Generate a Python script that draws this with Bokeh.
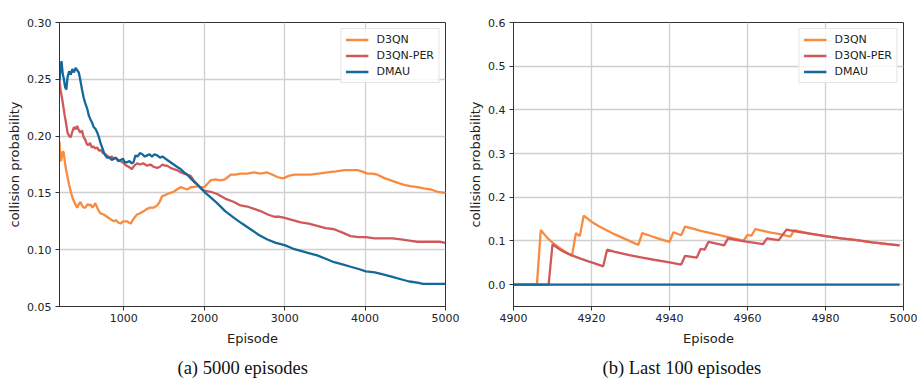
from bokeh.plotting import figure
from bokeh.layouts import row
from bokeh.models import Range1d, FixedTicker, Legend, LegendItem, Title, NumeralTickFormatter
from bokeh.embed import file_html
from bokeh.resources import INLINE

# ---------------- data: (a) 5000 episodes ----------------
d3qn_ep = [200, 210, 220, 235, 250, 265, 280, 300, 320, 340, 365, 390, 420, 440, 460, 480, 500, 520, 550, 570,
           585, 610, 630, 645, 670, 690, 710, 750, 790, 830, 875, 900, 930, 960, 990, 1040, 1060, 1085, 1110, 1140,
           1165, 1200, 1250, 1290, 1330, 1370, 1415, 1445, 1475, 1510, 1540, 1580, 1620, 1660, 1705, 1750, 1790,
           1830, 1870, 1920, 1960, 2000, 2040, 2080, 2140, 2200, 2260, 2330, 2390, 2450, 2530, 2620, 2700, 2785,
           2850, 2910, 2960, 2990, 3050, 3120, 3220, 3320, 3420, 3530, 3640, 3740, 3820, 3905, 3960, 4030, 4090,
           4155, 4240, 4320, 4400, 4485, 4560, 4650, 4730, 4820, 4900, 5000]
d3qn_val = [0.195, 0.180, 0.178, 0.186, 0.186, 0.178, 0.171, 0.164, 0.157, 0.151, 0.145, 0.141, 0.137, 0.140, 0.142,
            0.139, 0.137, 0.137, 0.140, 0.139, 0.140, 0.137, 0.139, 0.141, 0.137, 0.134, 0.132, 0.131, 0.129, 0.127,
            0.125, 0.126, 0.124, 0.123, 0.125, 0.125, 0.124, 0.123, 0.126, 0.129, 0.131, 0.132, 0.134, 0.136, 0.137,
            0.137, 0.139, 0.142, 0.147, 0.148, 0.149, 0.150, 0.151, 0.153, 0.155, 0.154, 0.153, 0.155, 0.155, 0.156,
            0.155, 0.155, 0.158, 0.161, 0.162, 0.161, 0.162, 0.166, 0.166, 0.167, 0.167, 0.168, 0.167, 0.168, 0.166,
            0.164, 0.163, 0.163, 0.165, 0.166, 0.166, 0.166, 0.167, 0.168, 0.169, 0.170, 0.170, 0.170, 0.169, 0.167,
            0.167, 0.166, 0.163, 0.161, 0.159, 0.157, 0.156, 0.155, 0.154, 0.153, 0.151, 0.150]

per_ep = [200, 215, 235, 250, 265, 280, 300, 320, 340, 360, 380, 400, 420, 440, 460, 480, 500, 520, 540, 560, 580,
          600, 620, 645, 670, 690, 710, 740, 770, 790, 820, 850, 875, 895, 930, 960, 1000, 1030, 1060, 1100, 1130,
          1165, 1200, 1240, 1290, 1330, 1370, 1415, 1450, 1480, 1510, 1540, 1580, 1620, 1665, 1710, 1750, 1790,
          1830, 1870, 1920, 1960, 2000, 2080, 2160, 2260, 2370, 2450, 2535, 2620, 2700, 2790, 2870, 2940, 3000,
          3100, 3200, 3300, 3405, 3510, 3615, 3720, 3820, 3920, 4010, 4120, 4235, 4340, 4445, 4550, 4650, 4750,
          4860, 4930, 5000]
per_val = [0.248, 0.240, 0.232, 0.225, 0.218, 0.212, 0.203, 0.200, 0.199, 0.204, 0.208, 0.206, 0.209, 0.205, 0.203,
           0.205, 0.199, 0.197, 0.193, 0.192, 0.194, 0.190, 0.191, 0.189, 0.190, 0.187, 0.188, 0.185, 0.184, 0.183,
           0.181, 0.182, 0.180, 0.181, 0.179, 0.178, 0.176, 0.174, 0.173, 0.171, 0.174, 0.176, 0.175, 0.176, 0.174,
           0.175, 0.173, 0.172, 0.173, 0.175, 0.174, 0.174, 0.172, 0.171, 0.170, 0.168, 0.167, 0.166, 0.165, 0.161,
           0.157, 0.154, 0.152, 0.151, 0.149, 0.145, 0.142, 0.139, 0.138, 0.136, 0.134, 0.131, 0.129, 0.129, 0.128,
           0.126, 0.124, 0.123, 0.121, 0.119, 0.118, 0.115, 0.112, 0.111, 0.111, 0.110, 0.110, 0.110, 0.109, 0.108,
           0.107, 0.107, 0.107, 0.107, 0.106]

dmau_ep = [200, 215, 225, 240, 255, 270, 285, 300, 320, 340, 360, 380, 400, 420, 440, 460, 480, 500, 520, 545, 565,
           590, 610, 625, 650, 670, 690, 710, 730, 750, 770, 790, 820, 850, 875, 900, 930, 960, 990, 1010, 1040,
           1070, 1100, 1120, 1145, 1170, 1200, 1230, 1260, 1290, 1320, 1350, 1380, 1415, 1450, 1480, 1500, 1540,
           1580, 1620, 1660, 1705, 1750, 1790, 1830, 1870, 1920, 1960, 2000, 2080, 2160, 2260, 2370, 2470, 2575,
           2680, 2785, 2890, 3000, 3100, 3200, 3300, 3405, 3510, 3615, 3720, 3820, 3920, 4010, 4120, 4235, 4340,
           4445, 4550, 4650, 4720, 4775, 4850, 4920, 5000]
dmau_val = [0.248, 0.262, 0.266, 0.255, 0.250, 0.243, 0.241, 0.252, 0.257, 0.254, 0.259, 0.256, 0.260, 0.258, 0.256,
            0.249, 0.241, 0.234, 0.229, 0.224, 0.218, 0.214, 0.211, 0.208, 0.206, 0.203, 0.199, 0.194, 0.190, 0.186,
            0.183, 0.181, 0.181, 0.179, 0.180, 0.181, 0.178, 0.179, 0.180, 0.177, 0.177, 0.178, 0.176, 0.177, 0.183,
            0.182, 0.185, 0.184, 0.182, 0.183, 0.184, 0.182, 0.184, 0.183, 0.181, 0.182, 0.181, 0.179, 0.177, 0.175,
            0.173, 0.171, 0.168, 0.166, 0.163, 0.160, 0.157, 0.154, 0.151, 0.146, 0.141, 0.134, 0.128, 0.123, 0.118,
            0.113, 0.109, 0.106, 0.104, 0.101, 0.099, 0.097, 0.095, 0.092, 0.089, 0.087, 0.085, 0.083, 0.081, 0.080,
            0.078, 0.076, 0.074, 0.072, 0.071, 0.070, 0.070, 0.070, 0.070, 0.070]

# ---------------- data: (b) last 100 episodes ----------------
d3qn_last_ep = [4900, 4906, 4907, 4908, 4909, 4910, 4911, 4912, 4913, 4914, 4915, 4916, 4917, 4918, 4919, 4920, 4922,
                4924, 4926, 4928, 4930, 4932, 4933, 4935, 4937, 4940, 4941, 4943, 4944, 4946, 4948, 4950, 4952, 4955,
                4957, 4959, 4960, 4961, 4962, 4964, 4966, 4968, 4971, 4972, 4976, 4980, 4984, 4988, 4992, 4996, 4999]
d3qn_last_val = [0.0, 0.0, 0.125, 0.114, 0.104, 0.096, 0.089, 0.083, 0.077, 0.071, 0.066, 0.118, 0.111, 0.158, 0.151,
                 0.144, 0.133, 0.124, 0.115, 0.107, 0.099, 0.091, 0.118, 0.112, 0.106, 0.098, 0.120, 0.113, 0.133,
                 0.128, 0.123, 0.119, 0.115, 0.109, 0.105, 0.101, 0.114, 0.112, 0.127, 0.123, 0.119, 0.116, 0.110,
                 0.125, 0.117, 0.111, 0.106, 0.102, 0.097, 0.093, 0.090]

per_last_ep = [4900, 4909, 4910, 4911, 4912, 4913, 4914, 4915, 4917, 4919, 4921, 4923, 4924, 4926, 4928, 4930, 4933,
               4936, 4940, 4943, 4944, 4947, 4948, 4949, 4950, 4952, 4954, 4955, 4958, 4961, 4964, 4965, 4968, 4970,
               4973, 4976, 4980, 4984, 4988, 4992, 4996, 4999]
per_last_val = [0.0, 0.0, 0.092, 0.086, 0.080, 0.075, 0.071, 0.067, 0.060, 0.054, 0.048, 0.042, 0.080, 0.075, 0.071,
                0.067, 0.062, 0.057, 0.051, 0.046, 0.066, 0.062, 0.082, 0.080, 0.098, 0.094, 0.090, 0.106, 0.101,
                0.097, 0.093, 0.106, 0.102, 0.126, 0.121, 0.117, 0.111, 0.106, 0.102, 0.097, 0.093, 0.090]

dmau_last_ep = [4900, 4999]
dmau_last_val = [0.0, 0.0]

series_names = ["D3QN", "D3QN-PER", "DMAU"]
colors = ["#F98B41", "#D1585A", "#14699A"]

x_ticks_a = [1000, 2000, 3000, 4000, 5000]
y_ticks_a = [0.05, 0.10, 0.15, 0.20, 0.25, 0.30]
x_ticks_b = [4900, 4920, 4940, 4960, 4980, 5000]
y_ticks_b = [0.0, 0.1, 0.2, 0.3, 0.4, 0.5, 0.6]

FONT = "DejaVu Sans"


def style(p, xt, yt, yfmt):
    p.xaxis.ticker = FixedTicker(ticks=xt)
    p.yaxis.ticker = FixedTicker(ticks=yt)
    p.yaxis.formatter = NumeralTickFormatter(format=yfmt)
    for ax in (p.xaxis[0], p.yaxis[0]):
        ax.major_label_text_font = FONT
        ax.major_label_text_font_size = "11px"
        ax.major_label_text_color = "#222222"
        ax.axis_label_text_font = FONT
        ax.axis_label_text_font_size = "13px"
        ax.axis_label_text_font_style = "normal"
        ax.axis_label_text_color = "#222222"
        ax.axis_line_color = "#333333"
        ax.major_tick_line_color = "#333333"
        ax.major_tick_out = 4
        ax.major_tick_in = 0
        ax.minor_tick_line_color = None
    p.xaxis.axis_label = "Episode"
    p.yaxis.axis_label = "collision probability"
    p.xaxis.major_label_standoff = 3
    p.xaxis.axis_label_standoff = 6
    p.yaxis.major_label_standoff = 4
    p.yaxis.axis_label_standoff = 2
    p.grid.grid_line_color = "#cfcfcf"
    p.grid.grid_line_width = 1.3
    p.outline_line_color = "#333333"
    p.outline_line_width = 1
    p.background_fill_color = "white"
    p.border_fill_color = "white"


def add_legend(p, renderers):
    items = [LegendItem(label=n, renderers=[r]) for n, r in zip(series_names, renderers)]
    lg = Legend(items=items, location="top_right")
    lg.label_text_font = FONT
    lg.label_text_font_size = "11px"
    lg.label_text_color = "#222222"
    lg.glyph_width = 23
    lg.glyph_height = 13
    lg.label_height = 13
    lg.spacing = 3
    lg.padding = 4
    lg.margin = 6
    lg.label_standoff = 8
    lg.border_line_color = "#cccccc"
    lg.border_line_width = 1
    lg.background_fill_alpha = 0.85
    p.add_layout(lg)


def caption(p, text, off):
    t = Title(text=text, align="left", offset=off, text_font="Liberation Serif", text_font_size="18.5px",
              text_font_style="normal", text_color="#111111", standoff=14, text_line_height=0.6)
    p.add_layout(t, "below")


# ---------------- figure (a) ----------------
pa = figure(width=460, height=384, output_backend="svg", toolbar_location=None,
            x_range=Range1d(200, 5000), y_range=Range1d(0.05, 0.30),
            min_border_left=59, min_border_right=15, min_border_top=22, min_border_bottom=74)
ra = []
for xs, ys, c in zip([d3qn_ep, per_ep, dmau_ep], [d3qn_val, per_val, dmau_val], colors):
    ra.append(pa.line(xs, ys, line_color=c, line_width=2.3))
style(pa, x_ticks_a, y_ticks_a, "0.00")
add_legend(pa, ra)
caption(pa, "(a) 5000 episodes", 118)

# ---------------- figure (b) ----------------
pb = figure(width=457, height=384, output_backend="svg", toolbar_location=None,
            x_range=Range1d(4900, 5000), y_range=Range1d(-0.05, 0.6),
            min_border_left=53, min_border_right=14, min_border_top=16, min_border_bottom=77)
rb = []
for xs, ys, c in zip([d3qn_last_ep, per_last_ep, dmau_last_ep], [d3qn_last_val, per_last_val, dmau_last_val], colors):
    rb.append(pb.line(xs, ys, line_color=c, line_width=2.3))
style(pb, x_ticks_b, y_ticks_b, "0.0")
add_legend(pb, rb)
caption(pb, "(b) Last 100 episodes", 89)

layout = row(pa, pb)
open("out.html", "w").write(file_html(layout, INLINE))
